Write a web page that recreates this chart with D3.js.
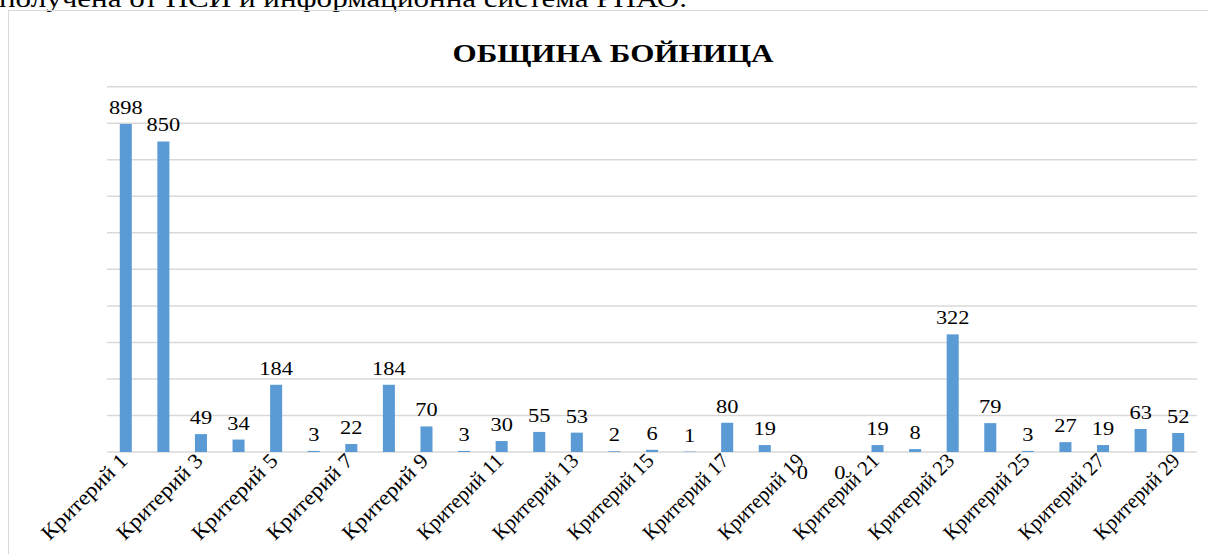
<!DOCTYPE html>
<html>
<head>
<meta charset="utf-8">
<script src="https://cdn.jsdelivr.net/npm/d3@7"></script>
<style>
  html, body { margin: 0; padding: 0; background: #fff; }
  svg { display: block; }
</style>
</head>
<body>
<svg id="chart" width="1208" height="554"></svg>
<script>
const categories = ["Критерий 1","Критерий 2","Критерий 3","Критерий 4","Критерий 5","Критерий 6","Критерий 7","Критерий 8","Критерий 9","Критерий 10",
  "Критерий 11","Критерий 12","Критерий 13","Критерий 14","Критерий 15","Критерий 16","Критерий 17","Критерий 18","Критерий 19","Критерий 20",
  "Критерий 21","Критерий 22","Критерий 23","Критерий 24","Критерий 25","Критерий 26","Критерий 27","Критерий 28","Критерий 29"];
const values = [898, 850, 49, 34, 184, 3, 22, 184, 70, 3, 30, 55, 53, 2, 6, 1, 80, 19, 0, 0, 19, 8, 322, 79, 3, 27, 19, 63, 52];
const gridTicks = [0, 100, 200, 300, 400, 500, 600, 700, 800, 900, 1000];
const title = "ОБЩИНА БОЙНИЦА";
const aboveText = "получена от НСИ и информационна система РНАО.";

const FONT = "'Liberation Serif', 'Times New Roman', 'DejaVu Serif', serif";
const svg = d3.select("#chart");
const W = 1208, H = 554;
const plot = { left: 107, right: 1197, top: 86.7, bottom: 452 };

svg.append("rect").attr("width", W).attr("height", H).attr("fill", "#fff");

// text of surrounding document, cut at top (as in the reference)
svg.append("text")
  .attr("x", -1).attr("y", 7)
  .attr("font-family", FONT)
  .attr("font-size", 26)
  .attr("textLength", 688).attr("lengthAdjust", "spacingAndGlyphs")
  .text(aboveText);

// chart frame
svg.append("rect")
  .attr("x", 8.5).attr("y", 10.5).attr("width", 1210).attr("height", 600)
  .attr("fill", "none").attr("stroke", "#d9d9d9").attr("stroke-width", 1);

const x = d3.scaleBand().domain(categories).range([plot.left, plot.right]).paddingInner(0.68).paddingOuter(0.34);
const y = d3.scaleLinear().domain([0, 1000]).range([plot.bottom, plot.top]);

// gridlines
svg.append("g").selectAll("line").data(gridTicks).join("line")
  .attr("x1", plot.left).attr("x2", plot.right)
  .attr("y1", d => y(d)).attr("y2", d => y(d))
  .attr("stroke", "#d9d9d9").attr("stroke-width", 1.5);

// title
svg.append("text")
  .attr("x", 613).attr("y", 62)
  .attr("text-anchor", "middle")
  .attr("font-family", FONT)
  .attr("font-size", 26).attr("font-weight", "bold")
  .attr("textLength", 321).attr("lengthAdjust", "spacingAndGlyphs")
  .text(title);

const data = categories.map((c, i) => ({ c, v: values[i] }));

// bars
svg.append("g").selectAll("rect").data(data).join("rect")
  .attr("x", d => x(d.c))
  .attr("width", x.bandwidth())
  .attr("y", d => y(d.v))
  .attr("height", d => y(0) - y(d.v))
  .attr("fill", "#5b9bd5");

// value labels
svg.append("g").selectAll("text").data(data).join("text")
  .attr("transform", d => {
    const cx = x(d.c) + x.bandwidth() / 2;
    const ty = d.v === 0 ? y(0) + 27 : y(d.v) - 10;
    return `translate(${cx},${ty}) scale(1.18,1)`;
  })
  .attr("text-anchor", "middle")
  .attr("font-family", FONT)
  .attr("font-size", 19)
  .text(d => d.v);

// x axis labels (every other category)
const shown = categories.filter((c, i) => i % 2 === 0);
svg.append("g").selectAll("text").data(shown).join("text")
  .attr("transform", c => {
    const cx = x(c) + x.bandwidth() / 2;
    return `translate(${cx + 3},${plot.bottom + 10}) rotate(-45)`;
  })
  .attr("text-anchor", "end")
  .attr("font-family", FONT)
  .attr("font-size", 21)
  .attr("textLength", 112).attr("lengthAdjust", "spacingAndGlyphs")
  .text(c => c);
</script>
</body>
</html>
